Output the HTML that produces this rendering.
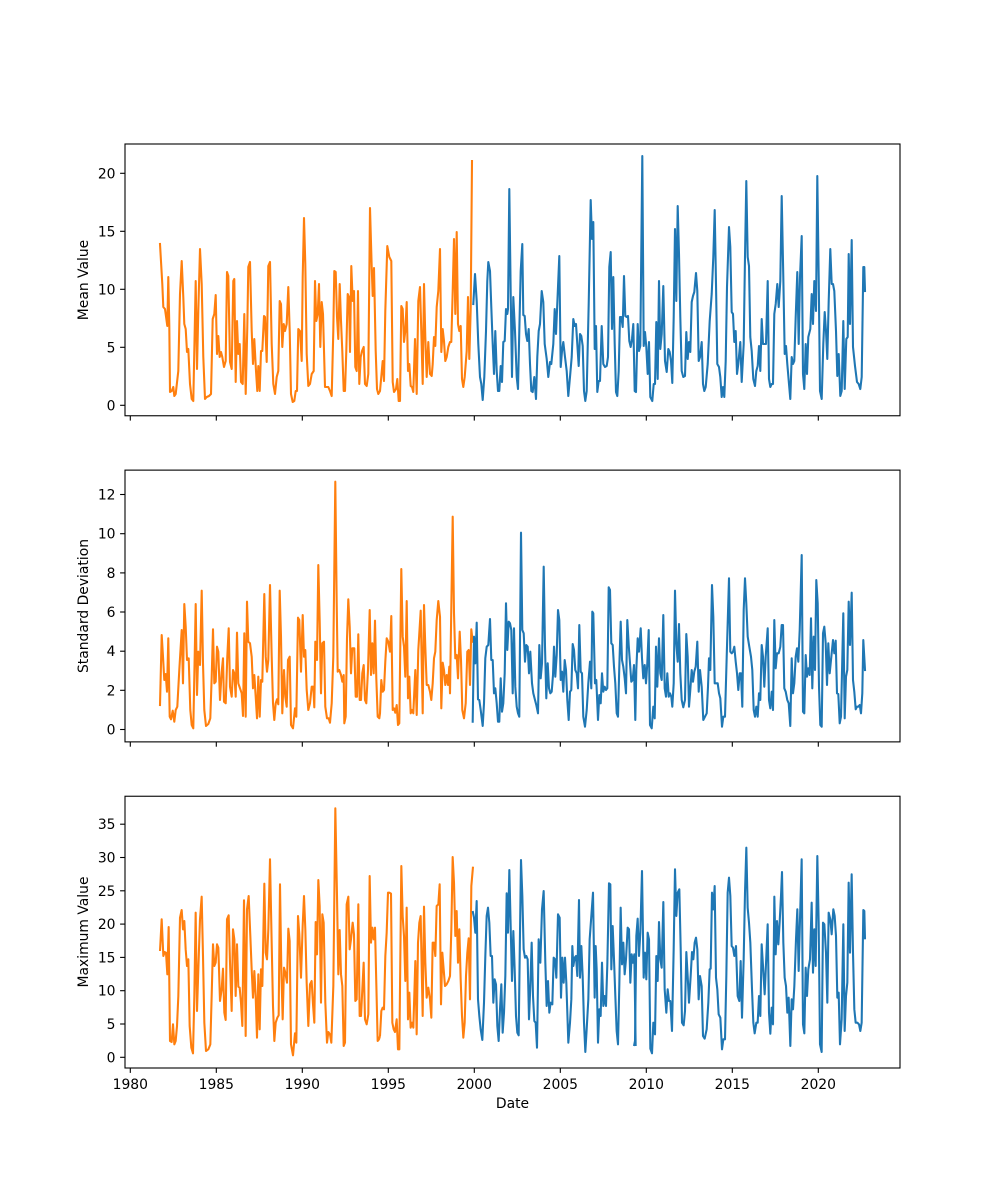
<!DOCTYPE html>
<html><head><meta charset="utf-8"><style>
html,body{margin:0;padding:0;background:#fff;}
svg{display:block;}
text{font-family:"DejaVu Sans","Liberation Sans",sans-serif;font-size:13.9px;fill:#000;}
.o{fill:none;stroke:#ff7f0e;stroke-width:2.08;stroke-linejoin:round;stroke-linecap:square;}
.b{fill:none;stroke:#1f77b4;stroke-width:2.08;stroke-linejoin:round;stroke-linecap:square;}
.os{fill:none;stroke:#ff7f0e;stroke-width:2.08;stroke-linejoin:round;vector-effect:non-scaling-stroke;}
.bs{fill:none;stroke:#1f77b4;stroke-width:2.08;stroke-linejoin:round;vector-effect:non-scaling-stroke;}
.ax{fill:none;stroke:#000;stroke-width:1.1;}
.tk{stroke:#000;stroke-width:1.1;}
</style></head><body>
<svg width="1000" height="1200" viewBox="0 0 1000 1200" xmlns="http://www.w3.org/2000/svg">
<rect width="1000" height="1200" fill="#fff"/>

<!-- Panel 1 -->
<polyline class="o" points="160,244 162.3,284 163.3,307 165,309 167.3,326 168.3,277 169.3,326 170,392 171.7,391 173.3,387 174.3,396 175.7,394 178.3,371 180,294 181.7,261 183.3,297 184.3,324 185.7,329 187,352 188.3,349 190,384 191.7,399 193.3,401 195.7,281 197,369 198.3,311 200,249 201.7,284 203.3,357 205,399 206.7,397 209,396 211,394 212.7,319 214.3,314 215.7,295 217,354 218.3,336 219.7,357 221,352 222.3,357 224,367 225.7,361 227,272 228.3,276 230,362 231.7,369 233.3,281 234.3,279 235.7,382 237,321 238.3,354 239.7,344 241,382 242.7,384 244.3,314 245.7,394 247.3,327 248.3,267 250,262 251.7,331 253,364 254.3,339 256,371 257.3,391 258.3,366 259.7,391 261,351 262.3,351 264,316 265,317 266.7,362 268.3,266 270,262 271.7,344 273.3,384 275,394 276.7,377 278.3,371 279.7,301 281,304 282.3,347 283.7,324 285,331 286.7,324 288.3,287 289.7,331 291,394 292.7,402 294.3,401 295.7,391 297,391 298.3,329 300,331 301.7,361 302.7,277 304,218 305.3,264 306.7,354 308.3,386 310,384 311.7,374 313.7,371 315,281 316.3,321 317.7,314 319,284 320.3,347 321.7,302 323,314 325,387 326.7,387 328.3,387 330,391 331.7,396 333.3,331 334.3,271 335.7,272 337,317 338.3,339 339.7,284 341,321 342.3,351 343.7,391 345,391 346.3,351 347.7,294 349,297 350,352 351.3,266 352.7,301 354,291 355.3,367 356.7,371 358,291 359.3,384 360.7,357 362,351 363.7,347 365,384 366.7,386 368.3,374 370,208 371.7,267 372.7,296 374,268 375.7,351 377,389 378.3,394 380,391 382.7,361 384,381 385.3,311 387.3,246 389.3,257 391.3,261 392.7,382 394,392 396,389 397.3,379 398.7,401 400,401 401.3,306 402.7,309 404,342 405.3,331 406.7,302 408,371 409.3,364 410.7,386 412,387 413.3,392 415,339 416.7,394 418.3,301 420,287 421.3,331 422.7,384 424,284 425.3,337 426.7,377 428.3,342 430,374 431.7,376 432.7,364 434,337 435.3,346 436.7,307 438.3,291 440,249 441.3,352 442.7,329 444,341 445.3,361 446.7,357 448.3,347 450,342 451.3,342 452.7,291 454,239 455.3,314 456.7,232 458,324 459.3,331 460.7,326 462,379 463.3,387 464.7,377 466.7,351 468,297 469.3,359 470.7,309 472,161"/>
<polyline class="b" points="473.3,304 475,274 476.7,301 478.3,344 480,377 481.3,384 482.7,400 484.3,377 486,331 487.3,281 488.3,262 490,271 491.3,307 492.7,344 494,374 495.3,331 496.7,371 498,391 499.3,391 500.7,366 502,382 503.3,342 504.7,341 506,309 507.3,314 508,309 509.3,189 510.7,294 512,377 513.3,297 515,331 516.7,377 518,389 519.3,331 520.7,271 522.3,244 523.3,315 524.7,316 526,334 527.3,341 528.7,329 530,364 531.3,391 532.7,392 534.3,377 536,399 537.3,357 538.7,331 540,324 541.7,291 543.3,302 544.7,344 546.7,359 548.3,377 550,362 551.3,364 553.3,344 554.7,309 556,334 557.7,294 559.3,256 560.7,367 562,351 563.3,342 565,357 566.7,371 568.3,396 570,377 571.7,357 573.3,319 574.7,326 576,324 577.3,344 578.7,366 580,334 581.3,336 582.7,346 584,391 585.3,401 586.7,391 588.7,304 590.7,200 592,239 593.3,222 594.7,349 596,326 597.3,392 598.7,381 600,381 601.7,326 603.3,364 605,367 606.7,366 608,357 609.3,267 610.7,252 612,329 613.3,277 614.7,344 616,392 617.3,396 618.7,371 620,317 621.3,317 622.7,327 624,276 625.3,316 626.7,317 628,316 629.3,341 630.7,347 632,339 633.3,324 634.7,391 636,392 637.7,324 639,351 640.3,346 642.3,156 643.7,346 645,332 646.3,347 647.7,374 649,342 650.3,397 652.3,401 653.7,384 655,384 656.3,322 657.7,379 659,281 660.3,349 661.7,334 663.3,286 665,361 666.7,372 668.3,349 669.7,352 671,361 672.3,383 673.7,317 675,229 676.3,301 677.7,206 679,254 680.3,317 681.7,371 683.3,377 685,376 686.3,332 687.7,359 689,342 690.3,352 691.7,302 693,296 694.3,292 696,273 697.3,291 698.7,361 700,357 701.7,342 703,384 704.3,391 705.7,387 707.7,364 709.7,321 711.7,294 713.3,257 714.7,210 716,284 717.3,364 719,367 720.3,377 721.7,397 723,387 724.3,397 725.7,361 727,287 729,227 730.3,247 731.7,312 733,314 734.3,342 735.7,331 737,374 738.3,364 740.3,342 741.7,382 743.7,344 745,257 746.3,181 747.7,257 749,266 750.3,337 751.7,351 753.3,379 755,386 756.3,371 757.7,366 759,346 760.3,371 761.7,319 763,344 764.3,344 766,344 767.7,281 769,379 770.3,387 771.7,384 773,384 774.3,314 775.7,304 777.3,284 778.7,307 780.3,281 781.7,196 783.3,277 784.7,354 786,346 787.3,364 789,384 790.3,399 791.7,357 793,364 794.3,361 795.7,317 797.3,272 798.7,344 800,277 801.7,236 803,374 804.3,389 805.7,344 807,374 808.3,337 810.3,329 811.7,294 813,324 814.3,281 816,311 817.3,176 818.7,277 820,391 821.7,399 823.3,344 824.7,312 826,331 827.3,359 828.7,301 830.3,249 831.7,284 833,284 834.3,291 836,331 837.3,376 838.7,354 840.3,396 841.7,391 843.3,321 844.7,389 846.3,339 847.7,337 848.7,254 850,324 851.7,240 853,347 855,366 857,382 858.7,384 860.3,389 861.7,377 863.3,267 864.3,267 865,291"/>
<rect class="ax" x="125" y="144" width="775" height="271.76"/>

<!-- Panel 2 -->
<polyline class="o" points="160,705 161.7,635 163,656.7 164.3,680 165.7,674 167,691.7 168.3,638.3 169.7,716.7 171,719.3 172.7,710.7 174.3,721.7 175.7,710 177.3,706.7 179.3,670 181.7,630 183,683.3 184.3,604 185.7,626.7 187,660 188.7,658.3 190.3,710 191.7,725 193.3,728.3 195.7,604 197,695 198.3,651.7 200,665 201.7,590.7 203,663.3 204.3,710 206,726 208.3,724 210.3,718.3 211.7,676.7 213,629.3 214.3,683.3 215.7,681.7 217,646.7 218.3,651.7 220,700 221.7,671.7 223,658.3 224,701.7 225.7,703.3 227.3,656.7 228.7,628.3 230,686.7 231.7,696.7 233,670 234.3,673.3 235.7,696.7 237,632.7 238.3,683.3 240,688.3 241.7,693.3 243,716 244.3,633.3 245.7,716.7 247,601.7 248.3,641.7 250,643.3 251.7,656.7 253,688.3 254.3,675 255.7,696.7 257,718.3 258.3,676.7 259.7,716.7 261,680 262.3,681.7 264.3,594 265.7,656.7 267,671.7 268.3,660 270,585 271.7,656.7 273,703.3 274.3,720 275.7,703.3 277,699.3 278.3,704.3 279.7,590.7 281,636.7 282.3,713.3 284,670 285.3,696.7 286.7,706.7 288,660 289.7,656.7 291,725 293,728.3 295,708.3 296.3,716.7 298,617.7 299.3,620 301,671.7 302.7,615 304,656.7 305.3,650 306.7,690 308.3,710 310,703.3 311.7,686.7 313.3,686.7 314.3,707.3 315.3,641.7 317,660 318.3,565 319.7,621.7 321,693.3 322.3,643.3 324,641.7 325.3,706.7 327,718.3 328.7,718.3 330,722.7 331.7,703.3 333.3,656.7 335.3,481.7 336.7,603.3 337.7,671.7 339.3,670 341,675 342.3,681.7 343.7,675 344.3,723.3 345.7,716.7 347,638.3 348.3,599.3 349.7,626.7 351,673.3 352.3,648.3 354.3,648.3 355.7,696.7 357,696.7 358.3,634.3 359.7,700 361,700 362.3,673.3 363.7,665 365,700 366.3,703.3 368,670 369.7,610 371,675 372.3,643.3 373.7,673.3 375,620.7 376.3,678.3 377.7,716.7 379.3,718.3 380,713.3 381.3,680 382.7,691.7 384,690 385.3,661.7 386.7,638.3 388.3,641.7 390,651.7 391.3,616 392.7,710 394,708.3 395.3,712.7 396.7,705 398,725 399.3,723.3 401.3,569 402.7,636.7 404,646.7 405.3,676.7 406.7,601 408,698.3 409.3,676.7 410.7,713.3 412,710 413.3,713.3 415.3,670 416.7,715 418.3,650 420.7,610.7 422.7,713.3 424,605 425.3,646.7 426.7,685 428.3,685 430,691.7 431.3,700 432.7,683.3 434,658.3 435.3,651.7 436.7,620 438.3,601 440,616.7 441.3,708.3 442.7,662.7 444,670 445.3,685 446.7,675 448,685 449.3,666.7 450,693.3 452.7,516.7 454,613.3 455.3,658.3 456.7,655 458,678.3 459.7,631.7 461,660 462.3,710 464,718.3 465.7,703.3 467.3,651.7 468.7,650 470,685 471.3,629.3 472.7,641.7"/>
<polyline class="b" points="472.7,721.7 474,636.7 475.3,663.3 476.7,622.7 478,699.3 479.3,700 480.7,710 482.7,726 484,703.3 485.3,658.3 486.7,646.7 488.3,645 490,619 491.3,660 492.7,660 494,693.3 495.3,688.3 496.7,703.3 498,721.7 499.3,721.7 500.7,678.3 502,711.7 503.3,703.3 504.7,673.3 506,603.3 507.3,650 508.7,621.7 510,623.3 511.3,630 512.7,693.3 514,628.3 515.3,686.7 516.7,706.7 518,713.3 519.3,716.7 521,532.7 522.3,630 523.7,633.3 525,661.7 526.3,645 527.7,646.7 529,673.3 530.3,651.7 532,683.3 533.3,693.3 535,700 536.3,705 538,713.3 539.3,645 540.7,678.3 542,663.3 543.7,566.7 545,646.7 546.3,698.3 547.7,663.3 549,688.3 550.3,693.3 551.7,691.7 553,675 554,646.7 555.3,676.7 556.7,655 558,610 559.3,620 560.7,680 562,671.7 563.3,691.7 564.7,660 566,670 567.3,700 568.7,720 570,691.7 571.3,690 572.7,644 574,650 575.3,670 576.7,673.3 578,688.3 579.3,625 580.7,671.7 582,673.3 583.3,716.7 585,726.7 586.7,710 588.3,683.3 590,661.7 591.3,688.3 592.3,611.7 593.3,613.3 595,683.3 596.3,680 598,720 599.3,695 600.7,703.3 602,673.3 603.3,691.7 604.7,686.7 606,690 607.3,688.3 608.7,587.3 610,590 611.3,643.3 612.7,645 614,666.7 615.3,683.3 616.7,713.3 618,716.7 619.3,666.7 620.7,621.7 622,660 623.3,666.7 624.7,678.3 626,693.3 627.3,620 628.7,645 630,663.3 631.3,681.7 632.7,680 634,665 635.3,720 636.3,670 637.7,638.3 639,651.7 640.7,628.3 642,658.3 643.3,678.3 644.7,665 646,683.3 647.3,663.3 648.7,630 650,725 651.7,728.3 653.3,706.7 654.7,718.3 656,646.7 657.3,686.7 659,638.3 660.3,673.3 661.7,680 663.3,615 664.7,688.3 666,696.7 667.3,673.3 668.7,696.7 670,693.3 671.3,696.7 672.3,706.7 673.7,683.3 675,590.7 676.3,643.3 677.7,661.7 679,624 680.3,673.3 681.7,700 683.3,707.3 685,700 686.3,634 687.7,656.7 689,706.7 690.3,690 691.7,670 693,681.7 694.3,671.7 695.7,666.7 697.3,641.7 698.7,691.7 700,670 701.7,686.7 703.3,720 705,716.7 706.7,713.3 708,686.7 709,658.3 710.3,670 712,585 713.3,616.7 714.7,683.3 716.3,683.3 717.7,683.3 719,693.3 720.3,698.3 722,726.7 723.3,716.7 725,716.7 726.7,656.7 729,578.3 730.3,651.7 731.7,653.3 733,651.7 734.3,646.7 735.7,661.7 737,673.3 738.3,690 739.7,673.3 741,673.3 742.3,706.7 743.7,610 745,578.3 746.3,603.3 747.7,636.7 749.3,646.7 751,656.7 752.3,670 753.7,710 755,716.7 756.3,706.7 757.7,716.7 759,693.3 760.3,700 761.7,645 763,656.7 764.3,686.7 765.7,656.7 767.7,628.3 769,700 770.3,708.3 771.7,691.7 773,710 774.3,620 775.7,668.3 777,653.3 778.7,653.3 780.3,646.7 781.7,625 783,625 784.3,688.3 785.7,691.7 787.3,700 788.7,703.3 790.3,726 791.7,658.3 793,693.3 794.3,683.3 795.7,656.7 797,648.3 798.3,661.7 799.7,630 801.7,555 803,711.7 804.3,713.3 805.7,655 807,676.7 808.3,668.3 809.7,675 811,618.3 812.3,688.3 813.7,636.7 815,670 816.3,580 817.7,603.3 819,686.7 820.3,725 821.7,726.7 823,633.3 824.3,626.7 825.7,643.3 827,685 828.3,643.3 829.7,673.3 831,660 833,640 834.3,653.3 835.7,640.7 837,693.3 838.3,694 839.7,723.3 841,716.7 843.3,613.3 844.7,718.3 846,676.7 847.3,670 848.7,601.7 850,645 851.7,592.7 853,680 854.3,691.7 855.7,709.3 857,706.7 858.3,706.7 859.7,705 861,713.3 862.3,693.3 863.3,640 865,670"/>
<rect class="ax" x="125" y="470.12" width="775" height="271.76"/>

<!-- Panel 3 -->
<g transform="translate(125,796) scale(0.33333)">
<polyline class="os" points="105,465 110,370 115,480 119,468 123,470 127,535 131,393 135,735 140,738 144,685 148,745 152,735 156,690 160,600 165,365 170,342 174,400 178,375 182,460 186,510 190,490 194,690 199,755 204,772 208,600 212,350 216,645 220,520 225,370 230,302 234,480 238,680 243,765 250,760 256,745 260,600 264,445 268,510 272,500 276,445 280,455 285,615 290,580 294,518 298,650 302,672 306,370 311,358 315,500 320,645 324,400 328,430 332,600 336,445 340,572 344,575 348,620 352,690 357,313 362,720 366,340 371,300 376,420 380,520 384,605 388,525 392,600 396,725 400,535 404,700 408,520 412,570 418,263 422,470 426,490 430,400 435,190 440,440 444,630 448,735 452,680 457,665 461,658 465,265 469,520 473,670 477,515 481,530 486,560 490,398 494,435 498,745 504,778 510,712 514,740 519,360 523,415 528,545 533,390 537,300 541,400 545,560 550,690 555,565 560,555 564,625 568,680 572,378 576,475 580,252 584,330 588,620 592,355 596,380 601,620 606,740 610,708 615,715 619,740 625,570 631,37 636,300 640,535 644,402 648,535 652,570 656,750 660,740 665,325 670,302 674,460 678,430 683,380 687,415 691,615 695,610 700,325 704,660 708,660 712,580 716,500 720,670 725,685 730,655 734,240 738,440 742,395 746,430 750,395 754,565 758,735 762,730 765,720"/>
</g>
<g transform="translate(380,796) scale(0.33333)">
<polyline class="os" points="0,720 4,645 8,635 12,640 16,480 20,410 24,290 28,290 33,293 37,680 41,700 45,708 50,670 54,760 58,760 64,210 68,360 72,420 76,555 80,335 84,670 88,590 92,695 96,680 100,695 106,495 110,715 114,440 118,380 122,360 128,660 132,332 136,500 140,605 145,575 150,610 154,665 158,440 162,440 166,480 170,330 175,325 179,265 183,625 187,470 191,520 195,570 200,565 205,555 210,540 214,400 218,183 222,260 226,420 230,345 234,500 238,400 242,550 246,660 250,725 254,680 258,540 262,470 266,427 270,610 274,270 279,212"/>
<polyline class="bs" points="278,345 282,365 286,410 290,315 294,610 298,660 302,700 307,732 312,620 316,480 320,360 324,335 328,380 332,480 336,480 340,620 344,550 348,565 352,690 356,735 360,640 364,565 368,710 372,650 376,540 380,292 384,410 388,222 392,390 396,555 400,405 404,520 408,660 412,710 416,718 420,410 423,192 427,300 431,460 435,485 439,480 443,490 447,670 451,570 455,440 459,600 463,675 467,680 471,755 476,430 481,500 486,340 491,285 496,500 500,630 504,555 508,650 512,620 517,625 521,485 525,490 529,545 534,355 539,365 543,605 547,485 551,560 555,485 559,560 565,740 570,680 574,610 577,450 580,510 584,485 588,480 592,540 597,312 600,545 604,450 608,540 612,680 616,768 620,700 625,610 629,430 634,360 639,290 644,605 647,450 650,520 654,740 658,640 662,660 666,500 670,630 674,600 678,630 682,505 687,262 691,265 694,520 698,390 702,490 706,600 710,705 714,745 718,565 722,335 726,505 730,440 734,535 738,490 743,395 747,400 751,560 755,475 759,500 763,475 767,750"/>
</g>
<g transform="translate(635,796) scale(0.33333)">
<polyline class="bs" points="-3,750 0,735 4,420 8,368 12,480 16,410 21,225 26,545 30,470 34,550 38,410 42,430 46,758 51,772 55,680 60,715 64,480 68,555 72,378 76,490 80,515 85,318 89,580 94,650 98,580 102,615 106,615 111,705 116,460 120,220 124,360 128,290 133,280 137,455 141,680 146,688 150,645 154,468 158,540 162,620 167,540 171,468 175,490 179,440 183,425 187,460 191,610 195,540 200,570 204,720 209,728 215,700 220,620 224,520 227,518 231,290 235,340 239,270 243,545 247,580 251,655 256,665 261,760 265,730 270,730 274,540 278,290 282,245 286,300 290,450 294,455 298,480 303,450 308,600 313,615 317,495 321,665 326,490 330,290 334,155 338,335 342,380 346,440 351,580 355,680 359,712 364,680 368,680 372,600 376,660 380,445 384,510 389,595 394,480 398,385 402,650 406,713 410,635 414,685 418,302 422,475 426,375 430,445 434,378 438,300 441,228 445,440 449,545 453,570 457,650 461,605 466,750 470,610 474,640 478,570 483,430 487,340 491,525 495,370 500,190 504,685 508,712 512,515 516,600 520,520 525,490 530,320 534,530 538,400 542,510 547,180 551,380 555,745 560,768 564,380 568,385 573,470 577,620 581,350 586,370 590,415 595,340 599,360 603,420 607,605 611,590 615,745 620,670 625,385 629,705 633,600 637,560 641,260 645,470 650,235 654,470 658,640 662,680 667,680 672,685 676,705 680,680 685,342 688,345 690,430"/>
</g>
<rect class="ax" x="125" y="796.24" width="775" height="271.76"/>

<!-- X ticks (all panels) -->
<g class="tk">
<line x1="130.3" y1="415.76" x2="130.3" y2="420.6"/><line x1="216.3" y1="415.76" x2="216.3" y2="420.6"/><line x1="302.3" y1="415.76" x2="302.3" y2="420.6"/><line x1="388.3" y1="415.76" x2="388.3" y2="420.6"/><line x1="474.3" y1="415.76" x2="474.3" y2="420.6"/><line x1="560.3" y1="415.76" x2="560.3" y2="420.6"/><line x1="646.3" y1="415.76" x2="646.3" y2="420.6"/><line x1="732.3" y1="415.76" x2="732.3" y2="420.6"/><line x1="818.3" y1="415.76" x2="818.3" y2="420.6"/>
<line x1="130.3" y1="741.88" x2="130.3" y2="746.7"/><line x1="216.3" y1="741.88" x2="216.3" y2="746.7"/><line x1="302.3" y1="741.88" x2="302.3" y2="746.7"/><line x1="388.3" y1="741.88" x2="388.3" y2="746.7"/><line x1="474.3" y1="741.88" x2="474.3" y2="746.7"/><line x1="560.3" y1="741.88" x2="560.3" y2="746.7"/><line x1="646.3" y1="741.88" x2="646.3" y2="746.7"/><line x1="732.3" y1="741.88" x2="732.3" y2="746.7"/><line x1="818.3" y1="741.88" x2="818.3" y2="746.7"/>
<line x1="130.3" y1="1068" x2="130.3" y2="1072.9"/><line x1="216.3" y1="1068" x2="216.3" y2="1072.9"/><line x1="302.3" y1="1068" x2="302.3" y2="1072.9"/><line x1="388.3" y1="1068" x2="388.3" y2="1072.9"/><line x1="474.3" y1="1068" x2="474.3" y2="1072.9"/><line x1="560.3" y1="1068" x2="560.3" y2="1072.9"/><line x1="646.3" y1="1068" x2="646.3" y2="1072.9"/><line x1="732.3" y1="1068" x2="732.3" y2="1072.9"/><line x1="818.3" y1="1068" x2="818.3" y2="1072.9"/>
</g>
<g text-anchor="middle">
<text x="130.3" y="1089">1980</text><text x="216.3" y="1089">1985</text><text x="302.3" y="1089">1990</text><text x="388.3" y="1089">1995</text><text x="474.3" y="1089">2000</text><text x="560.3" y="1089">2005</text><text x="646.3" y="1089">2010</text><text x="732.3" y="1089">2015</text><text x="818.3" y="1089">2020</text>
<text x="512.5" y="1108">Date</text>
</g>

<!-- Y ticks panel 1 -->
<g class="tk">
<line x1="120.1" y1="405.3" x2="125" y2="405.3"/><line x1="120.1" y1="347.3" x2="125" y2="347.3"/><line x1="120.1" y1="289.3" x2="125" y2="289.3"/><line x1="120.1" y1="231.3" x2="125" y2="231.3"/><line x1="120.1" y1="173.3" x2="125" y2="173.3"/>
</g>
<g text-anchor="end">
<text x="115.5" y="410.3">0</text><text x="115.5" y="352.3">5</text><text x="115.5" y="294.3">10</text><text x="115.5" y="236.3">15</text><text x="115.5" y="178.3">20</text>
</g>
<text transform="translate(88,280) rotate(-90)" text-anchor="middle">Mean Value</text>

<!-- Y ticks panel 2 -->
<g class="tk">
<line x1="120.1" y1="729.5" x2="125" y2="729.5"/><line x1="120.1" y1="690.3" x2="125" y2="690.3"/><line x1="120.1" y1="651.2" x2="125" y2="651.2"/><line x1="120.1" y1="612" x2="125" y2="612"/><line x1="120.1" y1="572.9" x2="125" y2="572.9"/><line x1="120.1" y1="533.7" x2="125" y2="533.7"/><line x1="120.1" y1="494.5" x2="125" y2="494.5"/>
</g>
<g text-anchor="end">
<text x="115.5" y="734.5">0</text><text x="115.5" y="695.3">2</text><text x="115.5" y="656.2">4</text><text x="115.5" y="617">6</text><text x="115.5" y="577.9">8</text><text x="115.5" y="538.7">10</text><text x="115.5" y="499.5">12</text>
</g>
<text transform="translate(88,606) rotate(-90)" text-anchor="middle">Standard Deviation</text>

<!-- Y ticks panel 3 -->
<g class="tk">
<line x1="120.1" y1="1057.3" x2="125" y2="1057.3"/><line x1="120.1" y1="1024" x2="125" y2="1024"/><line x1="120.1" y1="990.7" x2="125" y2="990.7"/><line x1="120.1" y1="957.4" x2="125" y2="957.4"/><line x1="120.1" y1="924.1" x2="125" y2="924.1"/><line x1="120.1" y1="890.8" x2="125" y2="890.8"/><line x1="120.1" y1="857.5" x2="125" y2="857.5"/><line x1="120.1" y1="824.2" x2="125" y2="824.2"/>
</g>
<g text-anchor="end">
<text x="115.5" y="1062.3">0</text><text x="115.5" y="1029">5</text><text x="115.5" y="995.7">10</text><text x="115.5" y="962.4">15</text><text x="115.5" y="929.1">20</text><text x="115.5" y="895.8">25</text><text x="115.5" y="862.5">30</text><text x="115.5" y="829.2">35</text>
</g>
<text transform="translate(88,932) rotate(-90)" text-anchor="middle">Maximum Value</text>
</svg>
</body></html>
